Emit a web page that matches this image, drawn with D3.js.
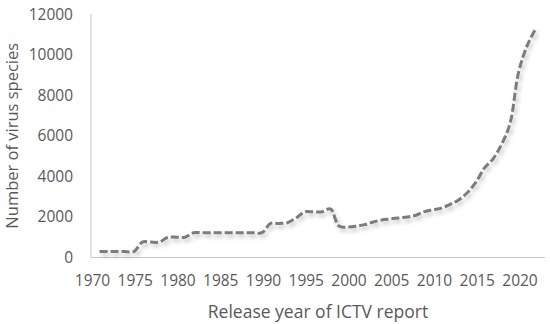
<!DOCTYPE html>
<html>
<head>
<meta charset="utf-8">
<script src="https://cdn.jsdelivr.net/npm/d3@7"></script>
<style>
  body { margin: 0; background: #fff; }
  svg text { font-family: "Open Sans", Lato, sans-serif; fill: #595959; }
</style>
</head>
<body>
<div id="chart"></div>
<script>
// report years and species counts
const years = [1971, 1972, 1973, 1974, 1975, 1976, 1977, 1978, 1979, 1980,
               1981, 1982, 1983, 1984, 1985, 1986, 1987, 1988, 1989, 1990,
               1991, 1992, 1993, 1994, 1995, 1996, 1997, 1998, 1999, 2000,
               2001, 2002, 2003, 2004, 2005, 2006, 2007, 2008, 2009, 2010,
               2011, 2012, 2013, 2014, 2015, 2016, 2017, 2018, 2019, 2020,
               2021, 2022];
const species = [290, 290, 290, 290, 290, 760, 760, 760, 1000, 1000,
                 1000, 1220, 1220, 1220, 1220, 1220, 1220, 1220, 1220, 1220,
                 1680, 1680, 1720, 1950, 2250, 2250, 2250, 2400, 1550, 1500,
                 1540, 1620, 1750, 1850, 1900, 1950, 2000, 2080, 2260, 2350,
                 2430, 2620, 2830, 3190, 3700, 4400, 4850, 5560, 6590, 9110,
                 10430, 11270];
const xTicks = [1970, 1975, 1980, 1985, 1990, 1995, 2000, 2005, 2010, 2015, 2020];
const yTicks = [0, 2000, 4000, 6000, 8000, 10000, 12000];

const data = years.map((y, i) => ({year: y, value: species[i]}));

const width = 550, height = 324;
const margin = {top: 14, right: 5, bottom: 66.5, left: 91};

const svg = d3.select("#chart").append("svg")
    .attr("width", width)
    .attr("height", height);

const defs = svg.append("defs");
const shadow = defs.append("filter").attr("id", "shadow")
    .attr("x", "-10%").attr("y", "-10%").attr("width", "130%").attr("height", "130%");
shadow.append("feDropShadow")
    .attr("dx", 2).attr("dy", 3).attr("stdDeviation", 2)
    .attr("flood-color", "#000").attr("flood-opacity", 0.25);

const x = d3.scaleLinear().domain([1970, 2023.1]).range([margin.left, width - margin.right]);
const y = d3.scaleLinear().domain([0, 12000]).range([height - margin.bottom, margin.top]);

// axis lines
svg.append("line")
    .attr("x1", x(1970)).attr("x2", x(1970))
    .attr("y1", y(12000)).attr("y2", y(0))
    .attr("stroke", "#c6c6c6").attr("stroke-width", 1);
svg.append("line")
    .attr("x1", x(1970)).attr("x2", x.range()[1])
    .attr("y1", y(0)).attr("y2", y(0))
    .attr("stroke", "#c6c6c6").attr("stroke-width", 1);

// tick labels
svg.selectAll(".ytick").data(yTicks).enter().append("text")
    .attr("class", "ytick")
    .attr("x", 73)
    .attr("y", d => y(d))
    .attr("dy", "0.36em")
    .attr("text-anchor", "end")
    .style("font-size", "15.5px")
    .text(d => d);

svg.selectAll(".xtick").data(xTicks).enter().append("text")
    .attr("class", "xtick")
    .attr("x", d => x(d) + 1.5)
    .attr("y", 286)
    .attr("text-anchor", "middle")
    .style("font-size", "15.5px")
    .text(d => d);

// axis titles
svg.append("text")
    .attr("transform", "translate(18," + ((y(0) + y(12000)) / 2) + ") rotate(-90)")
    .attr("text-anchor", "middle")
    .style("font-size", "16.5px")
    .text("Number of virus species");

svg.append("text")
    .attr("x", (x.range()[0] + x.range()[1]) / 2)
    .attr("y", 318)
    .attr("text-anchor", "middle")
    .style("font-size", "17.5px")
    .text("Release year of ICTV report");

// the series
const line = d3.line()
    .x(d => x(d.year))
    .y(d => y(d.value))
    .curve(d3.curveCatmullRom.alpha(0.5));

svg.append("path")
    .datum(data)
    .attr("d", line)
    .attr("fill", "none")
    .attr("stroke", "#7b7b7b")
    .attr("stroke-width", 3)
    .attr("stroke-dasharray", "8,3")
    .attr("filter", "url(#shadow)");
</script>
</body>
</html>
